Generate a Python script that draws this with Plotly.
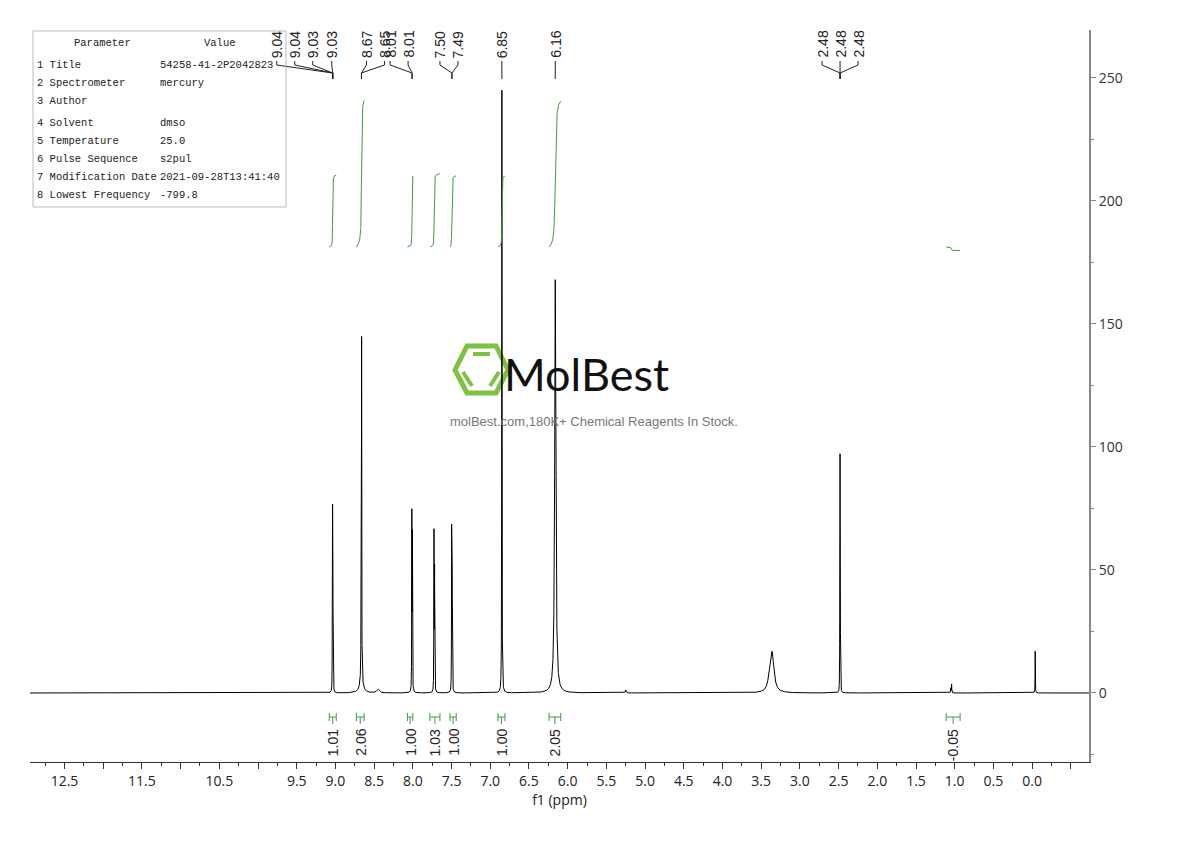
import numpy as np
import plotly.graph_objects as go

# 1H NMR peaks: shift (ppm), height, half width at half height (ppm)
peak_shift = [9.041, 9.037, 9.033, 9.029,
              8.668, 8.662, 8.665, 8.45,
              8.013, 8.006,
              7.727, 7.720,
              7.499, 7.492,
              6.850, 6.160, 5.25,
              3.40, 3.360,
              2.485, 2.481, 2.477,
              1.050, 1.040,
              -0.040]
peak_height = [18, 68, 50, 12,
               72, 134, 5, 1.5,
               71, 62,
               63, 60,
               65, 58,
               245, 168, 1.2,
               2.5, 16.5,
               24, 92, 24,
               2.0, 3.5,
               17]
peak_hwhm = [0.0015, 0.0015, 0.0015, 0.0015,
             0.0018, 0.0018, 0.025, 0.02,
             0.0018, 0.0018,
             0.0018, 0.0018,
             0.0018, 0.0018,
             0.0020, 0.0090, 0.006,
             0.02, 0.028,
             0.0014, 0.0014, 0.0014,
             0.003, 0.002,
             0.0018]

# integration regions (ppm) and values
integral_from = [9.08, 8.73, 8.07, 7.78, 7.52, 6.90, 6.24, 1.11]
integral_to = [8.99, 8.63, 8.00, 7.65, 7.44, 6.81, 6.09, 0.93]
integral_value = [1.01, 2.06, 1.00, 1.03, 1.00, 1.00, 2.05, -0.05]

# peak picking labels and the peak each one points to
shift_labels = ["9.04", "9.04", "9.03", "9.03", "8.67", "8.65", "8.01", "8.01",
                "7.50", "7.49", "6.85", "6.16", "2.48", "2.48", "2.48"]
shift_anchor = [9.035] * 4 + [8.664] * 2 + [8.010] * 2 + [7.495] * 2 + [6.85, 6.16] + [2.481] * 3

# acquisition parameters
param_names = ["1 Title", "2 Spectrometer", "3 Author", "4 Solvent", "5 Temperature",
               "6 Pulse Sequence", "7 Modification Date", "8 Lowest Frequency"]
param_values = ["54258-41-2P2042823", "mercury", "", "dmso", "25.0", "s2pul",
                "2021-09-28T13:41:40", "-799.8"]

x_tick_vals = [12.5, 12.0, 11.5, 11.0, 10.5, 10.0, 9.5, 9.0, 8.5, 8.0, 7.5, 7.0, 6.5, 6.0,
               5.5, 5.0, 4.5, 4.0, 3.5, 3.0, 2.5, 2.0, 1.5, 1.0, 0.5, 0.0, -0.5]
x_tick_text = ["12.5", "", "11.5", "", "10.5", "", "9.5", "9.0", "8.5", "8.0", "7.5", "7.0", "6.5",
               "6.0", "5.5", "5.0", "4.5", "4.0", "3.5", "3.0", "2.5", "2.0", "1.5", "1.0", "0.5",
               "0.0", ""]
y_tick_vals = [0, 50, 100, 150, 200, 250]

# ---- layout geometry (page pixels; the html body adds an 8px margin) ----
PAGE_MARGIN = 8
W, H = 1190 - 2 * PAGE_MARGIN, 841 - 2 * PAGE_MARGIN
L, R, T, B = 30, 1089, 30, 762
X_RANGE = [12.946, -0.735]
Y_RANGE = [-28.05, 269.5]
PX_PER_PPM = (R - L) / (X_RANGE[0] - X_RANGE[1])
GREEN = "#3f9a3f"
INTEGRAL_BASE = 181.3
INTEGRAL_SCALE = 28.9
label_offset_px = [-56, -38, -20, -1, 5, 23, -22, -4, -12, 6, 0, 0, -18, 0, 18]
param_row_y = [65, 83, 101, 123, 141, 159, 177, 195]


def paper_x(p):
    return (p - L) / (R - L)


def paper_y(p):
    return (B - p) / (B - T)


def ppm_shift(dpx):
    return -dpx / PX_PER_PPM


# spectrum
grid = np.linspace(X_RANGE[0], X_RANGE[1], 27000)
ppm = np.sort(np.concatenate([grid, peak_shift]))[::-1]
intensity = np.zeros_like(ppm)
for c, h, w in zip(peak_shift, peak_height, peak_hwhm):
    intensity += h / (1 + ((ppm - c) / w) ** 2)

fig = go.Figure()
fig.add_trace(go.Scatter(x=ppm, y=intensity, mode="lines",
                         line=dict(color="black", width=1),
                         hoverinfo="skip", showlegend=False))

shapes = []
annotations = []

# integral curves and brackets
for a, b, v in zip(integral_from, integral_to, integral_value):
    m = (ppm <= a) & (ppm >= b)
    cum = np.cumsum(intensity[m])
    cum = cum / cum[-1]
    fig.add_trace(go.Scatter(x=ppm[m], y=INTEGRAL_BASE + v * INTEGRAL_SCALE * cum,
                             mode="lines", line=dict(color=GREEN, width=1),
                             hoverinfo="skip", showlegend=False))
    mid = (a + b) / 2
    gl = dict(color=GREEN, width=1)
    shapes.append(dict(type="line", xref="x", yref="paper", x0=a, x1=b,
                       y0=paper_y(717), y1=paper_y(717), line=gl))
    for e in (a, b):
        shapes.append(dict(type="line", xref="x", yref="paper", x0=e, x1=e,
                           y0=paper_y(713), y1=paper_y(721), line=gl))
    shapes.append(dict(type="line", xref="x", yref="paper", x0=mid, x1=mid,
                       y0=paper_y(717), y1=paper_y(724), line=gl))
    annotations.append(dict(x=mid, xref="x", y=paper_y(727), yref="paper",
                            text=f"{v:.2f}", textangle=-90, showarrow=False,
                            xanchor="center", yanchor="top",
                            font=dict(family="Liberation Sans", size=14, color="#222")))

# peak picking labels
for txt, anc, off in zip(shift_labels, shift_anchor, label_offset_px):
    lx = anc + ppm_shift(off)
    kl = dict(color="#222", width=1)
    shapes.append(dict(type="line", xref="x", yref="paper", x0=lx, x1=lx,
                       y0=paper_y(61), y1=paper_y(65), line=kl))
    shapes.append(dict(type="line", xref="x", yref="paper", x0=lx, x1=anc,
                       y0=paper_y(65), y1=paper_y(73), line=kl))
    shapes.append(dict(type="line", xref="x", yref="paper", x0=anc, x1=anc,
                       y0=paper_y(73), y1=paper_y(79), line=kl))
    annotations.append(dict(x=lx, xref="x", y=paper_y(60), yref="paper", text=txt,
                            textangle=-90, showarrow=False, xanchor="center",
                            yanchor="bottom",
                            font=dict(family="Liberation Sans", size=14, color="#222")))

# parameter table
shapes.append(dict(type="rect", xref="paper", yref="paper",
                   x0=paper_x(33), x1=paper_x(286), y0=paper_y(31), y1=paper_y(207),
                   line=dict(color="#bbbbbb", width=1), fillcolor="rgba(0,0,0,0)"))
tfont = dict(family="Liberation Mono", size=10.5, color="#222")
annotations.append(dict(x=paper_x(102), y=paper_y(43), xref="paper", yref="paper",
                        text="Parameter", showarrow=False, xanchor="center",
                        yanchor="middle", font=tfont))
annotations.append(dict(x=paper_x(220), y=paper_y(43), xref="paper", yref="paper",
                        text="Value", showarrow=False, xanchor="center",
                        yanchor="middle", font=tfont))
for name, val, ry in zip(param_names, param_values, param_row_y):
    annotations.append(dict(x=paper_x(35), y=paper_y(ry), xref="paper", yref="paper",
                            text=name, showarrow=False, xanchor="left",
                            yanchor="middle", font=tfont))
    if val:
        annotations.append(dict(x=paper_x(158), y=paper_y(ry), xref="paper", yref="paper",
                                text=val, showarrow=False, xanchor="left",
                                yanchor="middle", font=tfont))

# watermark logo
hex_pts = [(455, 370), (467, 346), (496, 346), (508, 370), (496, 393), (467, 393)]
path = "M " + " L ".join(f"{paper_x(a):.5f},{paper_y(b):.5f}" for a, b in hex_pts) + " Z"
lime = "#7dc242"
shapes.append(dict(type="path", xref="paper", yref="paper", path=path, layer="below",
                   line=dict(color=lime, width=5)))
for (x0, y0, x1, y1) in [(473, 354, 490, 354), (463, 372, 472, 386), (499, 372, 490, 386)]:
    shapes.append(dict(type="line", xref="paper", yref="paper", layer="below",
                       x0=paper_x(x0), y0=paper_y(y0), x1=paper_x(x1), y1=paper_y(y1),
                       line=dict(color=lime, width=4)))
annotations.append(dict(x=paper_x(586), y=paper_y(374), xref="paper", yref="paper",
                        text="MolBest", showarrow=False, xanchor="center", yanchor="middle",
                        font=dict(family="Lato", size=45, color="#111")))
annotations.append(dict(x=paper_x(594), y=paper_y(421), xref="paper", yref="paper",
                        text="molBest.com,180K+ Chemical Reagents In Stock.", showarrow=False,
                        xanchor="center", yanchor="middle",
                        font=dict(family="Liberation Sans", size=13, color="#777")))

fig.update_layout(
    width=W, height=H,
    margin=dict(l=L - PAGE_MARGIN, r=W + PAGE_MARGIN - R, t=T - PAGE_MARGIN,
                b=H + PAGE_MARGIN - B),
    paper_bgcolor="white", plot_bgcolor="white",
    showlegend=False,
    shapes=shapes, annotations=annotations,
    font=dict(family="Open Sans", size=14, color="#222"),
    xaxis=dict(range=X_RANGE, showgrid=False, zeroline=False,
               showline=True, linecolor="#333", linewidth=1,
               ticks="outside", ticklen=6, tickcolor="#333",
               tickmode="array", tickvals=x_tick_vals, ticktext=x_tick_text,
               tickfont=dict(family="Open Sans", size=14, color="#222"),
               minor=dict(dtick=0.25, tick0=0, ticks="outside", ticklen=3, tickcolor="#333"),
               title=dict(text="f1 (ppm)", standoff=0,
                          font=dict(family="Open Sans", size=14, color="#222"))),
    yaxis=dict(range=Y_RANGE, side="right", showgrid=False, zeroline=False,
               showline=True, linecolor="#888", linewidth=2,
               ticks="outside", ticklen=5, tickcolor="#888",
               tickmode="array", tickvals=y_tick_vals,
               tickfont=dict(family="Open Sans", size=14, color="#333"),
               minor=dict(dtick=25, tick0=0, ticks="outside", ticklen=3, tickcolor="#888")),
)

fig.write_html("out.html")
